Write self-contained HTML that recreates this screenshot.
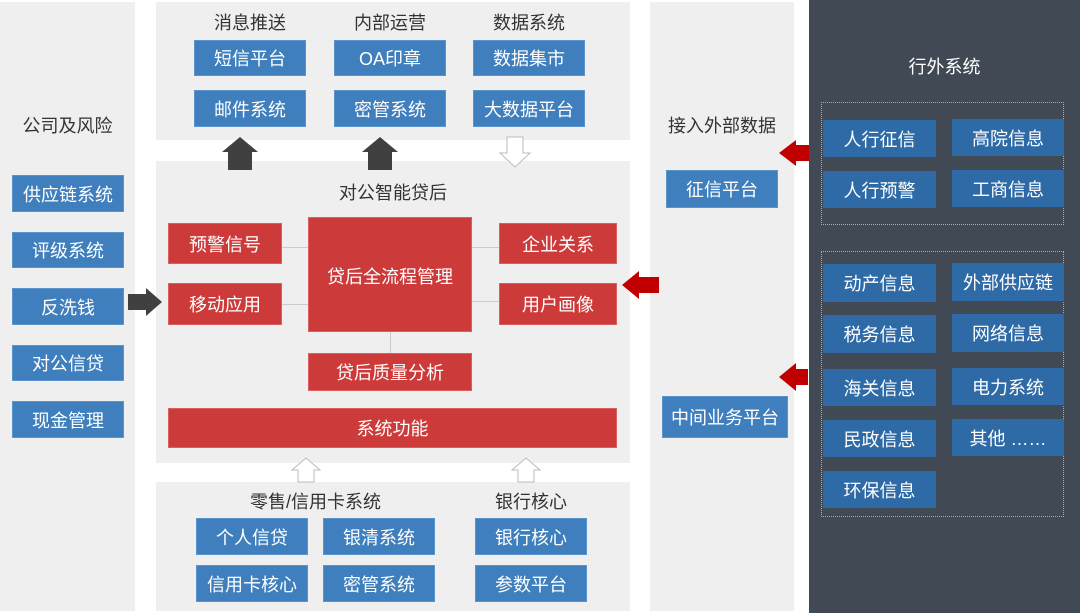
<!DOCTYPE html>
<html><head><meta charset="utf-8"><style>
body{margin:0;width:1080px;height:613px;background:#fff;overflow:hidden;position:relative;font-family:"Liberation Sans","Noto Sans CJK SC",sans-serif}
div{position:absolute;box-sizing:border-box}
.p{background:#efefef}
.b{background:#3f7fbd;color:#fff;font-size:18px;display:flex;align-items:center;justify-content:center;border:1px solid #5b93cc}
.d{background:#2e6aa6;color:#fff;font-size:18px;display:flex;align-items:center;justify-content:center}
.r{background:#cc3a3a;color:#fff;font-size:18px;display:flex;align-items:center;justify-content:center;border:1px solid #d86060}
.t{font-size:18px;color:#333;text-align:center}
</style></head><body>
<div class="p" style="left:0;top:2px;width:135px;height:609px"></div>
<div class="p" style="left:156px;top:2px;width:474px;height:138px"></div>
<div class="p" style="left:156px;top:161px;width:474px;height:302px"></div>
<div class="p" style="left:156px;top:482px;width:474px;height:129px"></div>
<div class="p" style="left:650px;top:2px;width:144px;height:609px"></div>
<div style="left:809px;top:0;width:271px;height:613px;background:#404954"></div>
<div style="left:821px;top:102px;width:243px;height:123px;border:1px dotted #aab"></div>
<div style="left:821px;top:251px;width:243px;height:266px;border:1px dotted #aab"></div>

<div class="t" style="left:0;top:112px;width:135px">公司及风险</div>
<div class="b" style="left:12px;top:175px;width:112px;height:37px">供应链系统</div>
<div class="b" style="left:12px;top:232px;width:112px;height:36px">评级系统</div>
<div class="b" style="left:12px;top:288px;width:112px;height:37px">反洗钱</div>
<div class="b" style="left:12px;top:345px;width:112px;height:36px">对公信贷</div>
<div class="b" style="left:12px;top:401px;width:112px;height:37px">现金管理</div>

<div class="t" style="left:180px;top:9px;width:140px">消息推送</div>
<div class="t" style="left:320px;top:9px;width:140px">内部运营</div>
<div class="t" style="left:459px;top:9px;width:140px">数据系统</div>
<div class="b" style="left:194px;top:40px;width:112px;height:36px">短信平台</div>
<div class="b" style="left:334px;top:40px;width:112px;height:36px">OA印章</div>
<div class="b" style="left:473px;top:40px;width:112px;height:36px">数据集市</div>
<div class="b" style="left:194px;top:90px;width:112px;height:37px">邮件系统</div>
<div class="b" style="left:334px;top:90px;width:112px;height:37px">密管系统</div>
<div class="b" style="left:473px;top:90px;width:112px;height:37px">大数据平台</div>

<div class="t" style="left:156px;top:179px;width:474px">对公智能贷后</div>
<div style="left:282px;top:247px;width:26px;height:1px;background:#ccc"></div>
<div style="left:282px;top:304px;width:26px;height:1px;background:#ccc"></div>
<div style="left:472px;top:247px;width:27px;height:1px;background:#ccc"></div>
<div style="left:472px;top:301px;width:27px;height:1px;background:#ccc"></div>
<div style="left:390px;top:332px;width:1px;height:21px;background:#ccc"></div>
<div class="r" style="left:168px;top:223px;width:114px;height:41px">预警信号</div>
<div class="r" style="left:168px;top:283px;width:114px;height:42px">移动应用</div>
<div class="r" style="left:308px;top:217px;width:164px;height:115px;align-items:flex-start;padding-top:45px">贷后全流程管理</div>
<div class="r" style="left:499px;top:223px;width:118px;height:41px">企业关系</div>
<div class="r" style="left:499px;top:283px;width:118px;height:42px">用户画像</div>
<div class="r" style="left:308px;top:353px;width:164px;height:38px">贷后质量分析</div>
<div class="r" style="left:168px;top:408px;width:449px;height:40px">系统功能</div>

<div class="t" style="left:196px;top:488px;width:239px">零售/信用卡系统</div>
<div class="t" style="left:475px;top:488px;width:112px">银行核心</div>
<div class="b" style="left:196px;top:518px;width:112px;height:37px">个人信贷</div>
<div class="b" style="left:323px;top:518px;width:112px;height:37px">银清系统</div>
<div class="b" style="left:475px;top:518px;width:112px;height:37px">银行核心</div>
<div class="b" style="left:196px;top:565px;width:112px;height:37px">信用卡核心</div>
<div class="b" style="left:323px;top:565px;width:112px;height:37px">密管系统</div>
<div class="b" style="left:475px;top:565px;width:112px;height:37px">参数平台</div>

<div class="t" style="left:650px;top:112px;width:144px">接入外部数据</div>
<div class="b" style="left:666px;top:170px;width:112px;height:38px">征信平台</div>
<div class="b" style="left:662px;top:396px;width:126px;height:42px">中间业务平台</div>

<div class="t" style="left:809px;top:53px;width:271px;color:#fff">行外系统</div>
<div class="d" style="left:823px;top:120px;width:113px;height:37px">人行征信</div>
<div class="d" style="left:952px;top:119px;width:112px;height:37px">高院信息</div>
<div class="d" style="left:823px;top:171px;width:113px;height:37px">人行预警</div>
<div class="d" style="left:952px;top:170px;width:112px;height:37px">工商信息</div>
<div class="d" style="left:823px;top:264px;width:113px;height:38px">动产信息</div>
<div class="d" style="left:952px;top:263px;width:112px;height:38px">外部供应链</div>
<div class="d" style="left:823px;top:315px;width:113px;height:38px">税务信息</div>
<div class="d" style="left:952px;top:314px;width:112px;height:38px">网络信息</div>
<div class="d" style="left:823px;top:369px;width:113px;height:37px">海关信息</div>
<div class="d" style="left:952px;top:368px;width:112px;height:37px">电力系统</div>
<div class="d" style="left:823px;top:420px;width:113px;height:37px">民政信息</div>
<div class="d" style="left:952px;top:419px;width:112px;height:37px">其他 ……</div>
<div class="d" style="left:823px;top:471px;width:113px;height:37px">环保信息</div>

<svg style="position:absolute;left:0;top:0" width="1080" height="613">
<g fill="#404040">
<polygon points="228,170 228,152 222,152 240,137 258,152 252,152 252,170"/>
<polygon points="368,170 368,152 362,152 380,137 398,152 392,152 392,170"/>
<polygon points="128,294 146,294 146,288 162,302 146,316 146,310 128,310"/>
</g>
<g fill="#fff" stroke="#bbb" stroke-width="1">
<polygon points="507,137 523,137 523,153 530,153 515,167 500,153 507,153"/>
<polygon points="298,482 298,470 292,470 306,458 320,470 314,470 314,482"/>
<polygon points="518,482 518,470 512,470 526,458 540,470 534,470 534,482"/>
</g>
<g fill="#c00000">
<polygon points="809,145 796,145 796,140 779,153 796,166 796,161 809,161"/>
<polygon points="808,369 796,369 796,363 779,377 796,391 796,385 808,385"/>
<polygon points="659,277 639,277 639,271 622,285 639,299 639,293 659,293"/>
</g>
</svg>
</body></html>
